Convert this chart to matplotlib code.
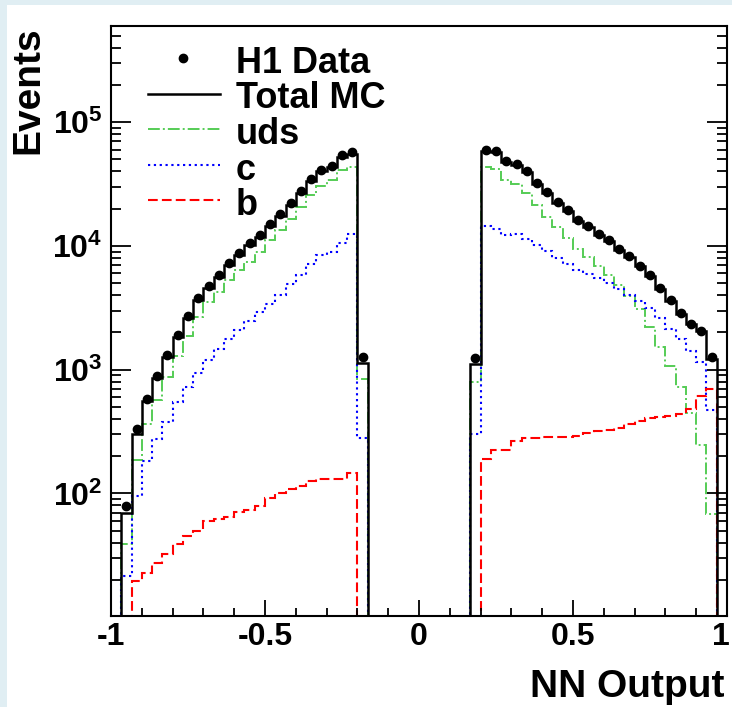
import numpy as np
import matplotlib
matplotlib.use("Agg")
import matplotlib.pyplot as plt
from matplotlib.lines import Line2D
from matplotlib.patches import Rectangle
from matplotlib.ticker import FixedLocator, LogLocator, NullFormatter
from matplotlib.transforms import ScaledTranslation

plt.rcParams['font.family'] = ['Liberation Sans', 'DejaVu Sans']
plt.rcParams['font.weight'] = 'bold'
plt.rcParams['mathtext.fontset'] = 'custom'
plt.rcParams['mathtext.rm'] = 'Liberation Sans:bold'
plt.rcParams['mathtext.bf'] = 'Liberation Sans:bold'
plt.rcParams['axes.unicode_minus'] = False
plt.rcParams['lines.scale_dashes'] = False

# ---- data (bin width 1/30, blocks [-0.9667,-0.1667] and [0.1667,0.9667]) ----
n_left = 24
n_gap = 10
n_right = 24

data_left = [79, 331, 577, 893, 1322, 1919, 2735, 3805, 4787, 5878, 7311, 8810,
             10540, 12310, 14930, 18230, 22220, 27780, 34760, 41390, 44590, 54040, 57520, 1259]
data_right = [1245, 60080, 58630, 48640, 45750, 40130, 32480, 27290, 22640, 19650, 16300, 14390,
              12560, 11220, 9484, 8266, 6916, 5771, 4550, 3663, 2876, 2344, 2070, 1274]

mc_left = [70, 301, 560, 860, 1260, 1840, 2630, 3650, 4600, 5650, 7050, 8500,
           10150, 11850, 14400, 17600, 21500, 26900, 33600, 40100, 43200, 52400, 55800, 1130]
mc_right = [1112, 58600, 57500, 47500, 44800, 39400, 31900, 26800, 22200, 19300, 16000, 14150,
            12350, 11050, 9350, 8150, 6830, 5700, 4500, 3620, 2840, 2320, 2040, 1215]

uds_left = [38.8, 186, 367, 572, 877, 1297, 1884, 2655, 3508, 4226, 5260, 6339,
            7400, 8919, 11090, 13530, 16600, 20610, 26000, 30370, 33900, 40830, 43440, 840]
uds_right = [789, 43460, 42170, 33900, 31900, 26990, 21300, 17100, 14200, 11640, 9480, 8110,
             6950, 5850, 4877, 3973, 3097, 2202, 1534, 1076, 728, 443, 247, 68]

c_left = [21.5, 95.5, 183, 275, 374, 543, 727, 933, 1199, 1472, 1774, 2096,
          2494, 2912, 3404, 4049, 4943, 5878, 7174, 8377, 8919, 10540, 12560, 280]
c_right = [301, 14450, 13760, 12160, 12390, 11430, 10090, 9084, 8018, 7174, 6418, 5952,
           5519, 5001, 4501, 4025, 3619, 3137, 2622, 2137, 1774, 1426, 1146, 472]

b_left = [0, 19.6, 22.9, 27.5, 32.6, 38.8, 45.3, 49.7, 59.8, 61.8, 64.9, 71.2,
          73.1, 79.2, 92.5, 101, 109, 115, 126, 130, 130, 130, 145, 0]
b_right = [0, 189, 224, 224, 266, 280, 280, 287, 287, 283, 292, 305,
           317, 327, 337, 363, 386, 403, 411, 425, 438, 481, 615, 698]

legend_labels = ["H1 Data", "Total MC", "uds", "c", "b"]
x_ticks = [-1, -0.5, 0, 0.5, 1]
x_tick_labels = ["-1", "-0.5", "0", "0.5", "1"]
y_ticks = [1e2, 1e3, 1e4, 1e5]
y_tick_labels = [r"$\mathbf{10^{2}}$", r"$\mathbf{10^{3}}$", r"$\mathbf{10^{4}}$", r"$\mathbf{10^{5}}$"]

# ---- bins ----
bw = 1.0 / 30.0
start = -1 + bw
n_tot = n_left + n_gap + n_right
edges = start + bw * np.arange(n_tot + 1)
centers = 0.5 * (edges[:-1] + edges[1:])
gap = [0] * n_gap

def full(l, r):
    return np.array(list(l) + gap + list(r), dtype=float)

W, H = 732, 707
fig = plt.figure(figsize=(W / 100, H / 100), dpi=100)
fig.patch.set_facecolor('#e0eef3')
fig.patches.append(Rectangle((7 / W, 0), 1, 1 - 5 / H, transform=fig.transFigure,
                             facecolor='white', edgecolor='none', zorder=-10))

L, R, T, B = 111, 727, 26, 616
ax = fig.add_axes([L / W, 1 - B / H, (R - L) / W, (B - T) / H])
ax.set_facecolor('white')

ax.set_yscale('log')
ax.set_xlim(-1, 1)
ax.set_ylim(10.2, 6e5)

styles = {
    'uds': dict(color='#55cc55', lw=1.4, dashes=(8.5, 2.2, 1.4, 2.2)),
    'c': dict(color='#0000ff', lw=1.5, dashes=(1.6, 2.6)),
    'b': dict(color='#ff0000', lw=1.5, dashes=(7.0, 3.0)),
    'mc': dict(color='black', lw=1.8),
}

st = ax.stairs(full(uds_left, uds_right), edges, baseline=0, color=styles['uds']['color'], lw=styles['uds']['lw'])
st.set_linestyle((0, styles['uds']['dashes']))
st = ax.stairs(full(c_left, c_right), edges, baseline=0, color=styles['c']['color'], lw=styles['c']['lw'])
st.set_linestyle((0, styles['c']['dashes']))
st = ax.stairs(full(b_left, b_right), edges, baseline=0, color=styles['b']['color'], lw=styles['b']['lw'])
st.set_linestyle((0, styles['b']['dashes']))
ax.stairs(full(mc_left, mc_right), edges, baseline=0, color='black', lw=styles['mc']['lw'])

dvals = full(data_left, data_right)
mask = dvals > 0
ax.plot(centers[mask], dvals[mask], 'o', color='black', ms=6.0, zorder=5)

# ticks
ax.xaxis.set_major_locator(FixedLocator(x_ticks))
ax.set_xticklabels(x_tick_labels)
ax.xaxis.set_minor_locator(FixedLocator(np.round(np.arange(-1, 1.001, 0.1), 3)))
ax.yaxis.set_major_locator(FixedLocator(y_ticks))
ax.set_yticklabels(y_tick_labels)
ax.yaxis.set_minor_locator(LogLocator(base=10, subs=np.arange(2, 10)))
ax.yaxis.set_minor_formatter(NullFormatter())

ax.tick_params(axis='x', which='major', direction='in', length=11.5, width=1.3, labelsize=23, pad=4,
               top=False, bottom=True)
ax.tick_params(axis='x', which='minor', direction='in', length=5.8, width=1.3, top=False, bottom=True)
ax.tick_params(axis='y', which='major', direction='in', length=14.4, width=1.3, labelsize=23, pad=6,
               left=True, right=True)
ax.tick_params(axis='y', which='minor', direction='in', length=7.2, width=1.3, left=True, right=True)
for lab in ax.get_xticklabels() + ax.get_yticklabels():
    lab.set_fontweight('bold')
for sp in ax.spines.values():
    sp.set_linewidth(1.5)

# keep the last x label inside the canvas (as in the reference)
last = ax.get_xticklabels()[-1]
last.set_transform(last.get_transform() + ScaledTranslation(-6 / 100, 0, fig.dpi_scale_trans))

# axis titles
fig.text(725 / W, 1 - 697 / H, "NN Output", ha='right', va='baseline', fontsize=28, fontweight='bold')
fig.text(28 / W, 1 - 26 / H, "Events", rotation=90, ha='center', va='top', fontsize=28, fontweight='bold')

# legend (drawn in figure pixels)
def fx(px):
    return px / W

def fy(py):
    return 1 - py / H

baselines = [73, 108.5, 144, 179.5, 215]
for i, lab in enumerate(legend_labels):
    yb = baselines[i]
    yh = yb - 15
    if i == 0:
        fig.add_artist(Line2D([fx(183)], [fy(yh)], marker='o', color='black', ms=6.0, ls='none',
                              transform=fig.transFigure))
    elif i == 1:
        fig.add_artist(Line2D([fx(148), fx(220)], [fy(yh), fy(yh)], color='black', lw=1.8,
                              transform=fig.transFigure))
    else:
        key = ['uds', 'c', 'b'][i - 2]
        s = styles[key]
        fig.add_artist(Line2D([fx(148), fx(220)], [fy(yh), fy(yh)], color=s['color'], lw=s['lw'],
                              dashes=s['dashes'], transform=fig.transFigure))
    fig.text(fx(236), fy(yb), lab, ha='left', va='baseline', fontsize=26, fontweight='bold')

fig.savefig("out.png", dpi=100, facecolor=fig.get_facecolor())
